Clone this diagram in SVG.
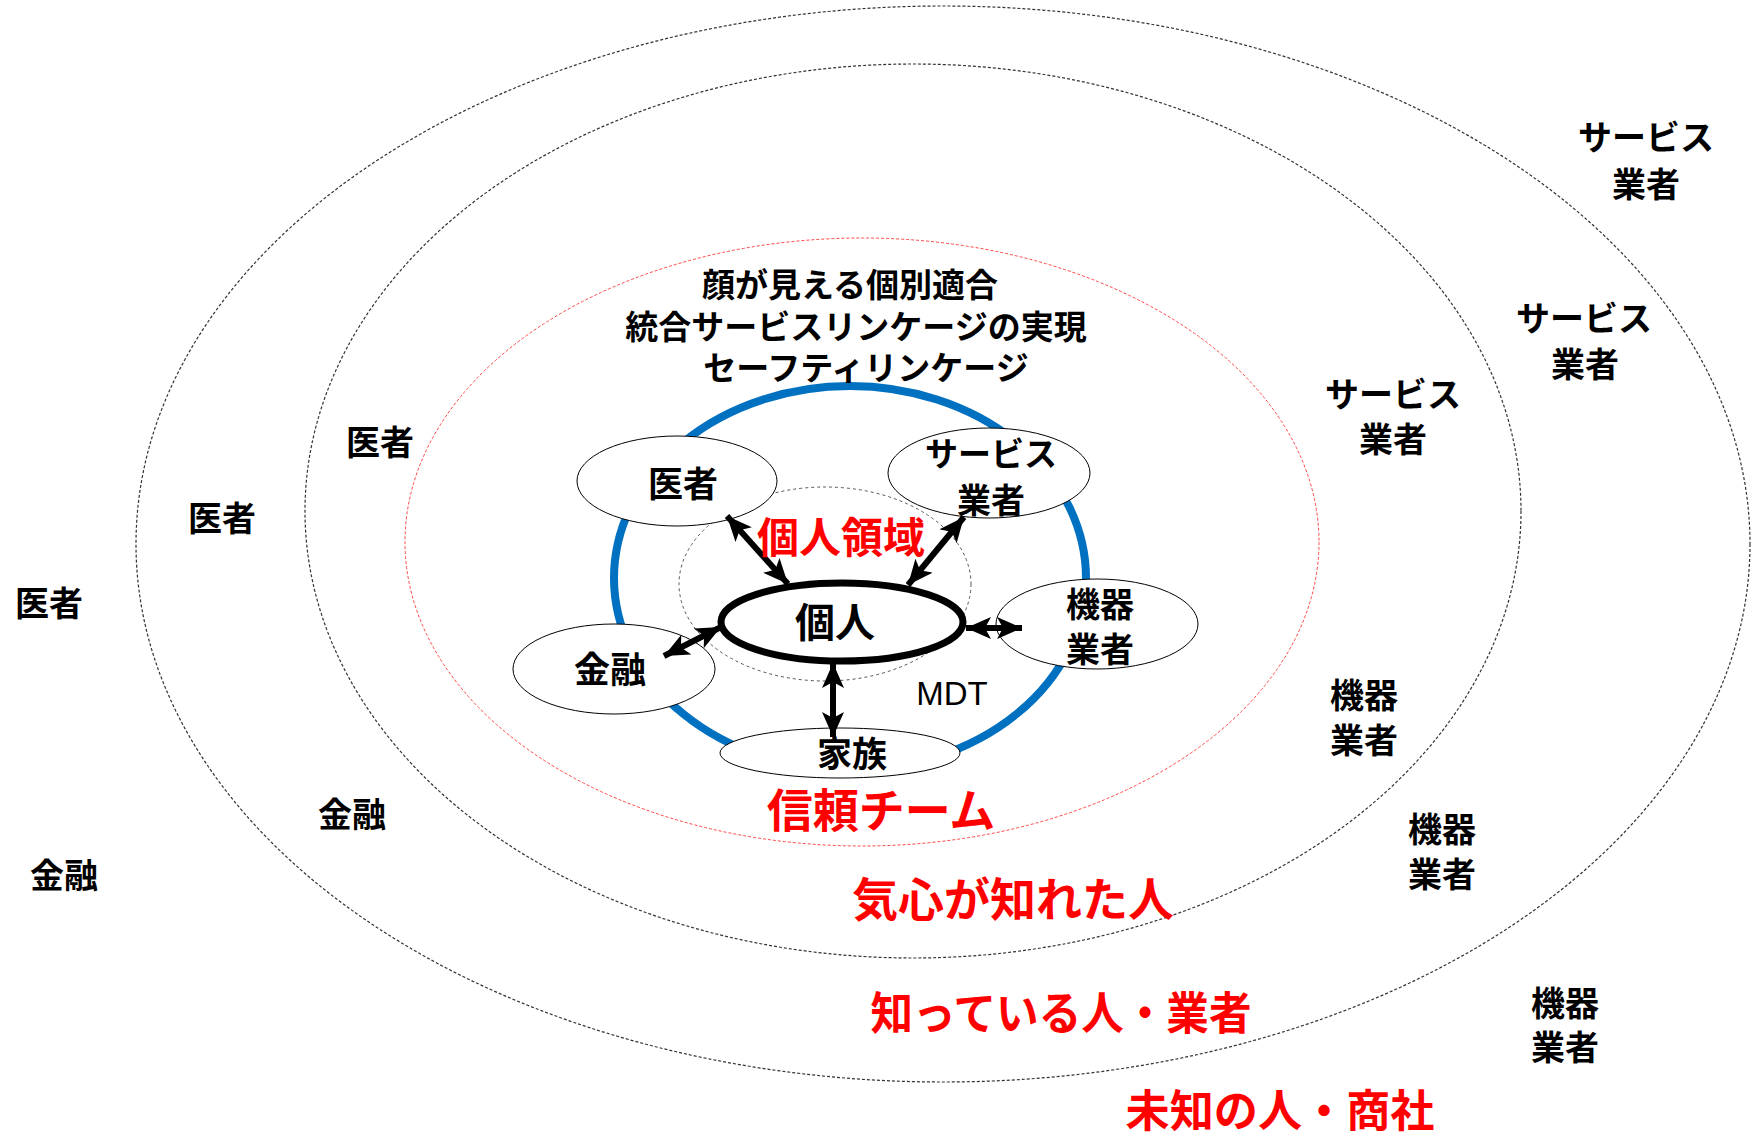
<svg xmlns="http://www.w3.org/2000/svg" width="1753" height="1137" viewBox="0 0 1753 1137">
<defs>
<style>
.jp{font-family:"Noto Sans CJK JP","Noto Sans CJK SC",sans-serif;font-weight:bold;text-anchor:middle;dominant-baseline:central;fill:#000}
.red{fill:#ff0000}
.ring{fill:none;stroke:#333;stroke-width:1.2;stroke-dasharray:3 2}
.node{fill:#fff;stroke:#000;stroke-width:1}
.arr{stroke:#000;stroke-width:6;marker-start:url(#ah);marker-end:url(#ah)}
</style>
<marker id="ah" markerUnits="userSpaceOnUse" markerWidth="28" markerHeight="24" refX="25" refY="11" orient="auto-start-reverse">
<path d="M0,0 L25,11 L0,22 L6,11 z" fill="#000"/>
</marker>
</defs>
<rect width="1753" height="1137" fill="#fff"/>
<g id="rings">
<ellipse class="ring" cx="943" cy="544" rx="807" ry="538"/>
<ellipse class="ring" cx="913" cy="511" rx="608" ry="447"/>
<ellipse cx="862" cy="542" rx="457" ry="304" fill="none" stroke="#ff4444" stroke-width="1" stroke-dasharray="3 2"/>
<ellipse cx="850" cy="578" rx="236" ry="192" fill="none" stroke="#0070c0" stroke-width="8"/>
<ellipse cx="825" cy="584" rx="146" ry="97" fill="none" stroke="#555" stroke-width="1" stroke-dasharray="3 3"/>
</g>
<g id="node-isha"><ellipse class="node" cx="677" cy="481" rx="100" ry="45"/><text class="jp" x="683" y="481" font-size="35">医者</text></g>
<g id="node-service"><ellipse class="node" cx="989" cy="473" rx="101" ry="45"/><text class="jp" x="991" y="452" font-size="33">サービス</text><text class="jp" x="991" y="498" font-size="34">業者</text></g>
<g id="node-kiki"><ellipse class="node" cx="1097" cy="624" rx="101" ry="45"/><text class="jp" x="1100" y="602" font-size="34">機器</text><text class="jp" x="1100" y="647" font-size="34">業者</text></g>
<g id="node-kinyu"><ellipse class="node" cx="614" cy="669" rx="101" ry="45"/><text class="jp" x="610" y="667" font-size="36">金融</text></g>
<g id="node-kazoku"><ellipse class="node" cx="840" cy="753" rx="120" ry="25"/><text class="jp" x="852" y="751" font-size="35">家族</text></g>
<g id="node-kojin"><ellipse cx="842" cy="622" rx="121" ry="39" fill="#fff" stroke="#000" stroke-width="7"/><text class="jp" x="835" y="620" font-size="40">個人</text></g>
<g id="connectors">
<line class="arr" x1="727" y1="516" x2="788" y2="584"/>
<line class="arr" x1="964" y1="517" x2="908" y2="585"/>
<line class="arr" x1="966" y1="628" x2="1022" y2="628"/>
<line class="arr" x1="664" y1="656" x2="721" y2="627"/>
<line class="arr" x1="833" y1="663" x2="833" y2="737"/>
</g>
<g id="labels">
<text class="jp" x="850" y="283" font-size="33">顔が見える個別適合</text>
<text class="jp" x="856" y="325" font-size="33">統合サービスリンケージの実現</text>
<text class="jp" x="866" y="366" font-size="33">セーフティリンケージ</text>
<text class="jp red" x="841" y="534" font-size="42">個人領域</text>
<text x="952" y="693" font-family="Liberation Sans, Arial, sans-serif" font-size="33" text-anchor="middle" dominant-baseline="central">MDT</text>
<text class="jp red" x="881" y="807" font-size="46">信頼チーム</text>
<text class="jp red" x="1013" y="896" font-size="46">気心が知れた人</text>
<text class="jp red" x="1061" y="1010" font-size="45" textLength="381" lengthAdjust="spacingAndGlyphs">知っている人・業者</text>
<text class="jp red" x="1280" y="1108" font-size="44" textLength="309" lengthAdjust="spacingAndGlyphs">未知の人・商社</text>
<text class="jp" x="380" y="440" font-size="34">医者</text>
<text class="jp" x="222" y="516" font-size="34">医者</text>
<text class="jp" x="49" y="601" font-size="34">医者</text>
<text class="jp" x="352" y="812" font-size="34">金融</text>
<text class="jp" x="64" y="873" font-size="34">金融</text>
<text class="jp" x="1393" y="392" font-size="34">サービス</text>
<text class="jp" x="1393" y="437" font-size="34">業者</text>
<text class="jp" x="1584" y="316" font-size="34">サービス</text>
<text class="jp" x="1585" y="362" font-size="34">業者</text>
<text class="jp" x="1646" y="135" font-size="34">サービス</text>
<text class="jp" x="1646" y="182" font-size="34">業者</text>
<text class="jp" x="1364" y="693" font-size="34">機器</text>
<text class="jp" x="1364" y="738" font-size="34">業者</text>
<text class="jp" x="1442" y="827" font-size="34">機器</text>
<text class="jp" x="1442" y="872" font-size="34">業者</text>
<text class="jp" x="1565" y="1001" font-size="34">機器</text>
<text class="jp" x="1565" y="1045" font-size="34">業者</text>
</g>
</svg>
